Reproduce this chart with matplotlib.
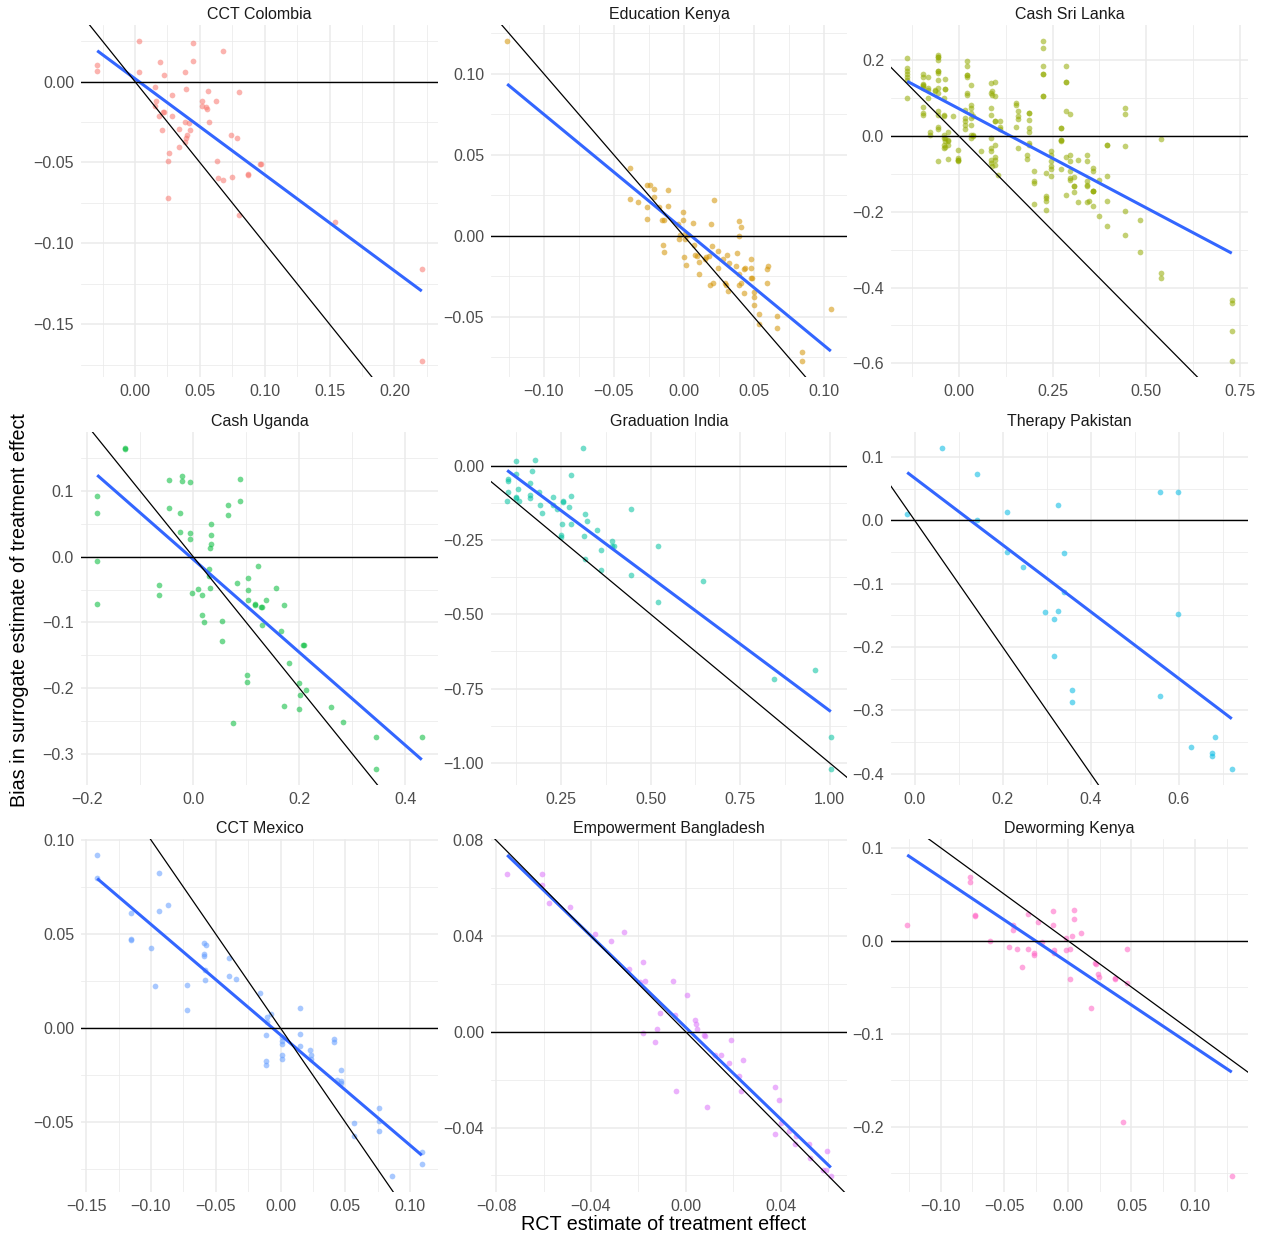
import numpy as np
import matplotlib.pyplot as plt

plt.rcParams['font.family'] = ['Liberation Sans', 'DejaVu Sans']

# --- data (RCT estimate, bias of surrogate estimate) ---
titles = ['CCT Colombia', 'Education Kenya', 'Cash Sri Lanka',
          'Cash Uganda', 'Graduation India', 'Therapy Pakistan',
          'CCT Mexico', 'Empowerment Bangladesh', 'Deworming Kenya']
colors = ['#F8766D', '#D39200', '#93AA00', '#00BA38', '#00C19F',
          '#00B9E3', '#619CFF', '#DB72FB', '#FF61C3']

colombia_x = [-0.0291, -0.0291, 0.0028, 0.0028, 0.0196, 0.0222, 0.0387, 0.0446, 0.0446, 0.0678,
              0.0155, 0.0397, 0.0289, 0.0562, 0.0802, 0.0162, 0.0155, 0.0515, 0.0549, 0.0554,
              0.0624, 0.0188, 0.0219, 0.0286, 0.0206, 0.0338, 0.0387, 0.0420, 0.0399, 0.0394,
              0.0389, 0.0425, 0.0338, 0.0570, 0.0742, 0.0786, 0.0265, 0.0258, 0.0255, 0.0634,
              0.0637, 0.0678, 0.0745, 0.0874, 0.0969, 0.0799, 0.1541, 0.2211, 0.2211, 0.0966,
              0.0874, 0.0518, 0.0224]
colombia_y = [0.0103, 0.0066, 0.0251, 0.0058, 0.0123, 0.0039, 0.0060, 0.0241, 0.0126, 0.0191,
              -0.0033, -0.0045, -0.0082, -0.0058, -0.0062, -0.0123, -0.0148, -0.0119, -0.0156, -0.0169,
              -0.0123, -0.0210, -0.0189, -0.0212, -0.0300, -0.0292, -0.0247, -0.0257, -0.0329, -0.0350,
              -0.0374, -0.0302, -0.0405, -0.0253, -0.0331, -0.0350, -0.0444, -0.0490, -0.0720, -0.0492,
              -0.0597, -0.0609, -0.0593, -0.0574, -0.0508, -0.0825, -0.0868, -0.1160, -0.1728, -0.0510,
              -0.0576, -0.0154, -0.0191]

edu_kenya_x = [-0.1263, -0.0384, -0.0386, -0.0329, -0.0265, -0.0243, -0.0210, -0.0265, -0.0265, -0.0210,
               -0.0112, -0.0114, -0.0176, -0.0157, -0.0141, -0.0150, -0.0141, -0.0007, -0.0007, -0.0045,
               0.0064, 0.0191, 0.0217, -0.0026, -0.0031, 0.0005, 0.0010, 0.0031, 0.0074, 0.0083,
               0.0093, -0.0002, 0.0012, 0.0107, 0.0105, 0.0153, 0.0160, 0.0179, 0.0184, 0.0212,
               0.0200, 0.0246, 0.0241, 0.0277, 0.0291, 0.0300, 0.0312, 0.0315, 0.0322, 0.0379,
               0.0396, 0.0410, 0.0396, 0.0374, 0.0393, 0.0398, 0.0410, 0.0427, 0.0436, 0.0431,
               0.0482, 0.0482, 0.0482, 0.0486, 0.0503, 0.0505, 0.0505, 0.0541, 0.0541, 0.0605,
               0.0594, 0.0598, 0.0665, 0.0665, 0.0844, 0.0844, 0.1051]
edu_kenya_y = [0.1203, 0.0419, 0.0230, 0.0207, 0.0316, 0.0312, 0.0291, 0.0176, 0.0107, 0.0242,
               0.0285, 0.0187, 0.0176, 0.0101, 0.0101, -0.0057, -0.0101, 0.0148, 0.0099, 0.0076,
               0.0080, 0.0072, 0.0220, 0.0004, -0.0018, 0.0012, -0.0016, 0.0004, -0.0053, -0.0115,
               -0.0127, -0.0133, -0.0179, -0.0160, -0.0232, -0.0140, -0.0131, -0.0123, -0.0300, -0.0293,
               -0.0064, -0.0094, -0.0201, -0.0140, -0.0289, -0.0300, -0.0119, -0.0341, -0.0168, -0.0105,
               0.0094, 0.0053, 0.0000, -0.0187, -0.0234, -0.0300, -0.0289, -0.0207, -0.0201, -0.0355,
               -0.0140, -0.0201, -0.0259, -0.0259, -0.0345, -0.0378, -0.0429, -0.0484, -0.0546, -0.0187,
               -0.0207, -0.0289, -0.0495, -0.0566, -0.0716, -0.0772, -0.0449]

sri_lanka_x = [-0.138, -0.138, -0.138, -0.138, -0.138, -0.138, -0.138,
               -0.095, -0.095, -0.095, -0.095, -0.095, -0.095, -0.095, -0.095, -0.095,
               -0.083, -0.083, -0.083, -0.083, -0.076, -0.076, -0.065, -0.065,
               -0.055, -0.055, -0.055, -0.055, -0.055, -0.055, -0.055, -0.055, -0.055, -0.055, -0.055, -0.055, -0.055,
               -0.041, -0.041, -0.041, -0.041, -0.041, -0.041, -0.041,
               -0.037, -0.037, -0.037, -0.037, -0.037,
               -0.028, -0.028, -0.028, -0.028, -0.028, -0.016,
               -0.003, -0.003, -0.003, -0.003,
               0.017, 0.017, 0.017, 0.017, 0.017,
               0.022, 0.022, 0.022, 0.022, 0.022, 0.022,
               0.033, 0.033, 0.033, 0.033, 0.033, 0.033, 0.033, 0.033,
               0.038, 0.038, 0.038, 0.060,
               0.085, 0.085, 0.085, 0.085, 0.085, 0.085, 0.085, 0.085, 0.085,
               0.089, 0.089, 0.089,
               0.097, 0.097, 0.097, 0.097, 0.097, 0.097, 0.097, 0.103,
               0.109, 0.109, 0.109, 0.152, 0.152, 0.152,
               0.158, 0.158, 0.158, 0.158, 0.181, 0.181,
               0.187, 0.187, 0.187, 0.187, 0.187, 0.187,
               0.200, 0.200, 0.200, 0.200,
               0.225, 0.225, 0.225, 0.225, 0.225,
               0.233, 0.233, 0.233, 0.233, 0.233,
               0.245, 0.245, 0.245, 0.245, 0.245,
               0.271, 0.271, 0.271, 0.271,
               0.285, 0.285, 0.285, 0.285, 0.285,
               0.296, 0.296, 0.296, 0.296, 0.296, 0.296,
               0.308, 0.308, 0.308, 0.317, 0.317,
               0.341, 0.341, 0.341, 0.341, 0.341, 0.341, 0.348,
               0.359, 0.359, 0.359, 0.359, 0.359, 0.374, 0.374,
               0.395, 0.395, 0.395, 0.395,
               0.444, 0.444, 0.444, 0.444, 0.444,
               0.483, 0.483, 0.540, 0.540, 0.540,
               0.728, 0.728, 0.728, 0.728,
               # overplotted (darker) spots
               -0.037, -0.055, -0.055, 0.022, -0.003, 0.225, 0.225, 0.271, 0.271,
               0.285, 0.308, 0.359, 0.395, 0.245, 0.097, 0.187]
sri_lanka_y = [0.206, 0.179, 0.172, 0.163, 0.157, 0.149, 0.100,
               0.163, 0.157, 0.137, 0.134, 0.131, 0.127, 0.077, 0.061, 0.056,
               0.157, 0.127, 0.122, 0.100, 0.012, 0.002, 0.122, 0.118,
               0.215, 0.210, 0.201, 0.171, 0.166, 0.149, 0.128, 0.113, 0.065, 0.056, 0.025, 0.019, -0.067,
               0.100, 0.056, 0.052, 0.004, -0.005, -0.023, -0.032,
               0.151, 0.125, -0.005, -0.014, -0.029,
               0.012, -0.010, -0.014, -0.023, -0.061, 0.052,
               -0.036, -0.058, -0.062, -0.067,
               0.069, 0.047, 0.039, 0.030, 0.018,
               0.197, 0.184, 0.160, 0.156, 0.113, 0.109,
               0.134, 0.083, 0.074, 0.061, 0.047, 0.028, 0.004, -0.005,
               0.052, 0.004, -0.001, -0.039,
               0.140, 0.113, 0.074, 0.056, -0.005, -0.032, -0.039, -0.062, -0.071,
               0.118, 0.109, -0.080,
               0.144, 0.105, 0.039, -0.023, -0.054, -0.062, -0.076, -0.102,
               0.039, 0.023, 0.018, 0.087, 0.083, 0.025,
               0.065, 0.052, 0.046, -0.032, -0.049, -0.060,
               0.061, 0.043, 0.021, 0.011, -0.018, -0.023,
               -0.093, -0.118, -0.124, -0.179,
               0.251, 0.232, 0.186, 0.164, 0.105,
               -0.098, -0.159, -0.163, -0.171, -0.194,
               -0.039, -0.051, -0.065, -0.080, -0.105,
               0.021, -0.010, -0.014, -0.087,
               0.184, 0.144, 0.065, -0.056, -0.155,
               0.059, -0.049, -0.067, -0.093, -0.111, -0.115,
               -0.109, -0.133, -0.148, -0.062, -0.175,
               -0.049, -0.065, -0.120, -0.128, -0.133, -0.174, -0.171,
               -0.084, -0.093, -0.144, -0.146, -0.185, -0.115, -0.212,
               -0.023, -0.105, -0.172, -0.238,
               0.074, 0.058, -0.025, -0.197, -0.260,
               -0.222, -0.306, -0.007, -0.362, -0.376,
               -0.432, -0.440, -0.515, -0.594,
               0.125, 0.210, 0.171, 0.160, -0.062, 0.164, 0.105, 0.021, -0.010,
               0.144, -0.133, -0.144, -0.023, -0.087, 0.039, 0.061]

uganda_x = [-0.1282, -0.1282, -0.1813, -0.1813, -0.1813, -0.1813, -0.0467, -0.0215, -0.0215, -0.0069,
            -0.0467, -0.0246, -0.0246, -0.0063, -0.0063, 0.0341, 0.0341, 0.0341, 0.0316, 0.0663,
            0.0663, 0.0884, 0.0884, 0.0303, 0.0303, 0.0316, -0.0019, 0.0082, 0.0171, 0.0171,
            0.0208, 0.0537, 0.0537, -0.0651, -0.0651, 0.1232, 0.1042, 0.1042, 0.1042, 0.0828,
            0.1162, 0.1175, 0.1276, 0.1289, 0.1377, 0.1560, 0.1718, 0.1289, 0.1655, 0.2072,
            0.2097, 0.1800, 0.1017, 0.1017, 0.0745, 0.2003, 0.2021, 0.2135, 0.1718, 0.2003,
            0.2603, 0.2830, 0.3443, 0.3443, 0.4315]
uganda_y = [0.1658, 0.1643, 0.0923, 0.0663, -0.0061, -0.0724, 0.1168, 0.1230, 0.1158, 0.1143,
            0.0745, 0.0673, 0.0372, 0.0367, 0.0276, 0.0500, 0.0332, 0.0194, 0.0138, 0.0786,
            0.0638, 0.1184, 0.0847, -0.0184, -0.0286, -0.0469, -0.0546, -0.0495, -0.0582, -0.0893,
            -0.0995, -0.0980, -0.1281, -0.0434, -0.0577, -0.0148, -0.0327, -0.0500, -0.0663, -0.0403,
            -0.0714, -0.0740, -0.0760, -0.0760, -0.0663, -0.0469, -0.0730, -0.1036, -0.1138, -0.1342,
            -0.1347, -0.1612, -0.1796, -0.1913, -0.2541, -0.1929, -0.2107, -0.2026, -0.2276, -0.2321,
            -0.2286, -0.2520, -0.2755, -0.3235, -0.2755]

india_x = [0.312, 0.123, 0.176, 0.169, 0.276, 0.101, 0.102, 0.123, 0.164, 0.102,
           0.129, 0.123, 0.123, 0.099, 0.131, 0.163, 0.163, 0.189, 0.227, 0.192,
           0.196, 0.254, 0.254, 0.228, 0.239, 0.273, 0.276, 0.315, 0.323, 0.253,
           0.276, 0.350, 0.250, 0.250, 0.313, 0.393, 0.393, 0.397, 0.360, 0.315,
           0.361, 0.444, 0.444, 0.521, 0.521, 0.647, 0.844, 0.960, 1.003, 1.003]
india_y = [0.059, 0.015, 0.020, -0.019, -0.030, -0.045, -0.051, -0.028, -0.058, -0.090,
           -0.080, -0.104, -0.109, -0.120, -0.118, -0.098, -0.109, -0.088, -0.104, -0.132,
           -0.159, -0.120, -0.121, -0.131, -0.146, -0.138, -0.102, -0.162, -0.187, -0.195,
           -0.196, -0.215, -0.232, -0.239, -0.238, -0.253, -0.269, -0.269, -0.284, -0.313,
           -0.350, -0.147, -0.367, -0.270, -0.458, -0.389, -0.719, -0.688, -0.911, -1.020]

pakistan_x = [-0.0167, 0.0631, 0.1414, 0.1414, 0.2099, 0.2099, 0.2464, 0.3255, 0.3407, 0.3407,
              0.2966, 0.3255, 0.3179, 0.3179, 0.3574, 0.3574, 0.5574, 0.5992, 0.5574, 0.5992,
              0.6274, 0.6829, 0.6768, 0.6768, 0.7209]
pakistan_y = [0.0100, 0.1139, 0.0727, 0.0005, 0.0127, -0.0501, -0.0733, 0.0237, -0.0517, -0.1128,
              -0.1444, -0.1429, -0.1560, -0.2140, -0.2673, -0.2868, 0.0438, 0.0448, -0.2778, -0.1476,
              -0.3585, -0.3416, -0.3680, -0.3716, -0.3927]

mexico_x = [-0.1415, -0.1415, -0.0940, -0.0940, -0.0865, -0.1154, -0.1154, -0.1154, -0.1002, -0.0968,
            -0.0723, -0.0723, -0.0594, -0.0573, -0.0591, -0.0591, -0.0584, -0.0584, -0.0398, -0.0395,
            -0.0341, -0.0155, -0.0077, -0.0103, -0.0103, -0.0116, -0.0116, -0.0116, 0.0008, 0.0008,
            0.0008, 0.0008, 0.0008, 0.0147, 0.0147, 0.0147, 0.0225, 0.0232, 0.0232, 0.0416,
            0.0416, 0.0467, 0.0439, 0.0470, 0.0465, 0.0566, 0.0566, 0.0757, 0.0757, 0.0757,
            0.1090, 0.1090, 0.0860]
mexico_y = [0.0920, 0.0800, 0.0823, 0.0624, 0.0654, 0.0612, 0.0472, 0.0466, 0.0427, 0.0222,
            0.0229, 0.0096, 0.0452, 0.0441, 0.0392, 0.0383, 0.0307, 0.0255, 0.0374, 0.0277,
            0.0259, 0.0188, 0.0073, 0.0059, 0.0032, -0.0035, -0.0176, -0.0197, -0.0048, -0.0069,
            -0.0083, -0.0140, -0.0161, 0.0106, -0.0030, -0.0092, -0.0115, -0.0144, -0.0163, -0.0059,
            -0.0073, -0.0223, -0.0273, -0.0282, -0.0291, -0.0505, -0.0571, -0.0422, -0.0491, -0.0544,
            -0.0658, -0.0720, -0.0785]

bangladesh_x = [-0.0754, -0.0609, -0.0605, -0.0577, -0.0488, -0.0383, -0.0317, -0.0263, -0.0239, -0.0181,
                -0.0174, -0.0193, -0.0055, 0.0007, -0.0108, -0.0046, -0.0122, -0.0181, -0.0129, 0.0038,
                0.0041, 0.0049, 0.0077, 0.0082, -0.0042, 0.0089, 0.0125, 0.0149, 0.0183, 0.0190,
                0.0243, 0.0225, 0.0234, 0.0377, 0.0393, 0.0377, 0.0401, 0.0435, 0.0466, 0.0461,
                0.0522, 0.0525, 0.0595, 0.0581, 0.0612, 0.0592]
bangladesh_y = [0.0659, 0.0658, 0.0612, 0.0538, 0.0523, 0.0408, 0.0378, 0.0418, 0.0261, 0.0293,
                0.0213, 0.0210, 0.0213, 0.0156, 0.0077, 0.0070, 0.0013, -0.0006, -0.0042, 0.0049,
                0.0033, 0.0011, -0.0013, -0.0018, -0.0249, -0.0312, -0.0096, -0.0098, -0.0131, -0.0033,
                -0.0116, -0.0183, -0.0247, -0.0231, -0.0286, -0.0425, -0.0382, -0.0414, -0.0436, -0.0470,
                -0.0470, -0.0525, -0.0498, -0.0578, -0.0602, -0.0576]

deworm_x = [-0.1262, -0.0767, -0.0767, -0.0728, -0.0728, -0.0612, -0.0463, -0.0431, -0.0431, -0.0399,
            -0.0315, -0.0310, -0.0357, -0.0268, -0.0268, -0.0237, -0.0205, -0.0116, -0.0116, -0.0105,
            -0.0105, -0.0016, -0.0016, 0.0018, 0.0018, 0.0032, 0.0047, 0.0047, 0.0105, 0.0179,
            0.0210, 0.0221, 0.0237, 0.0247, 0.0373, 0.0373, 0.0436, 0.0465, 0.0465, 0.1288]
deworm_y = [0.0165, 0.0683, 0.0629, 0.0277, 0.0263, -0.0007, -0.0065, 0.0165, 0.0115, -0.0086,
            -0.0086, 0.0284, -0.0288, -0.0137, -0.0158, 0.0201, -0.0014, 0.0324, 0.0165, -0.0101,
            -0.0137, 0.0032, -0.0101, -0.0086, -0.0417, 0.0050, 0.0331, 0.0237, 0.0086, -0.0730,
            -0.0237, -0.0255, -0.0363, -0.0388, -0.0399, -0.0417, -0.1953, -0.0086, -0.0460, -0.2532]

panel_x = [colombia_x, edu_kenya_x, sri_lanka_x, uganda_x, india_x, pakistan_x, mexico_x, bangladesh_x, deworm_x]
panel_y = [colombia_y, edu_kenya_y, sri_lanka_y, uganda_y, india_y, pakistan_y, mexico_y, bangladesh_y, deworm_y]

# axis breaks and number of decimals shown
x_breaks = [[0.0, 0.05, 0.10, 0.15, 0.20], [-0.10, -0.05, 0.0, 0.05, 0.10], [0.0, 0.25, 0.50, 0.75],
            [-0.2, 0.0, 0.2, 0.4], [0.25, 0.50, 0.75, 1.00], [0.0, 0.2, 0.4, 0.6],
            [-0.15, -0.10, -0.05, 0.0, 0.05, 0.10], [-0.08, -0.04, 0.0, 0.04], [-0.10, -0.05, 0.0, 0.05, 0.10]]
x_dec = [2, 2, 2, 1, 2, 1, 2, 2, 2]
y_breaks = [[-0.15, -0.10, -0.05, 0.0], [-0.05, 0.0, 0.05, 0.10], [-0.6, -0.4, -0.2, 0.0, 0.2],
            [-0.3, -0.2, -0.1, 0.0, 0.1], [-1.00, -0.75, -0.50, -0.25, 0.0], [-0.4, -0.3, -0.2, -0.1, 0.0, 0.1],
            [-0.05, 0.0, 0.05, 0.10], [-0.04, 0.0, 0.04, 0.08], [-0.2, -0.1, 0.0, 0.1]]
y_dec = [2, 2, 1, 1, 2, 1, 2, 2, 1]


def fmt(vals, d):
    return [f'{v:.{d}f}'.replace('-', '\u2212') for v in vals]


def minor_of(br, lo, hi):
    step = br[1] - br[0]
    mins = [br[0] - step / 2] + [b + step / 2 for b in br]
    return [m for m in mins if lo <= m <= hi]


W, H = 1265, 1236
fig = plt.figure(figsize=(W / 100, H / 100), dpi=100)

col_left = [81, 491, 891]
col_w = [357, 356, 357]
row_top = [25, 432, 839]
row_h = [352, 353, 353]

for i in range(9):
    r, c = divmod(i, 3)
    ax = fig.add_axes([col_left[c] / W, 1 - (row_top[r] + row_h[r]) / H, col_w[c] / W, row_h[r] / H])
    x = np.array(panel_x[i])
    y = np.array(panel_y[i])

    # lm fit like geom_smooth(method = "lm", se = FALSE)
    slope, icpt = np.polyfit(x, y, 1)
    fx = np.array([x.min(), x.max()])
    fy = icpt + slope * fx

    x0, x1 = x.min(), x.max()
    y0 = min(y.min(), fy.min(), 0)
    y1 = max(y.max(), fy.max(), 0)
    dx, dy = (x1 - x0) * 0.05, (y1 - y0) * 0.05
    ax.set_xlim(x0 - dx, x1 + dx)
    ax.set_ylim(y0 - dy, y1 + dy)

    ax.scatter(x, y, s=17, color=colors[i], alpha=0.55, linewidths=0, zorder=3)
    ax.plot(fx, fy, color='#3366FF', lw=2.2, zorder=4, solid_capstyle='butt')
    ax.axhline(0, color='black', lw=1.0, zorder=5)
    ax.axline((0, 0), slope=-1, color='black', lw=0.9, zorder=5)

    ax.set_xticks(x_breaks[i])
    ax.set_xticklabels(fmt(x_breaks[i], x_dec[i]))
    ax.set_yticks(y_breaks[i])
    ax.set_yticklabels(fmt(y_breaks[i], y_dec[i]))
    ax.set_xticks(minor_of(x_breaks[i], x0 - dx, x1 + dx), minor=True)
    ax.set_yticks(minor_of(y_breaks[i], y0 - dy, y1 + dy), minor=True)

    ax.grid(which='major', color='#EBEBEB', lw=1.1)
    ax.grid(which='minor', color='#EBEBEB', lw=0.55)
    ax.set_axisbelow(True)
    for s in ax.spines.values():
        s.set_visible(False)
    ax.tick_params(which='both', length=0, labelsize=11.5, labelcolor='#4D4D4D')
    ax.tick_params(axis='x', pad=5)
    ax.tick_params(axis='y', pad=5)
    ax.set_title(titles[i], fontsize=11.5, color='#1A1A1A', pad=4)

fig.text(664 / W, 1 - 1225 / H, 'RCT estimate of treatment effect', ha='center', va='center', fontsize=14.2)
fig.text(20 / W, 1 - 610 / H, 'Bias in surrogate estimate of treatment effect', ha='center', va='center',
         rotation=90, fontsize=14.2)

fig.savefig('out.png', dpi=100)
